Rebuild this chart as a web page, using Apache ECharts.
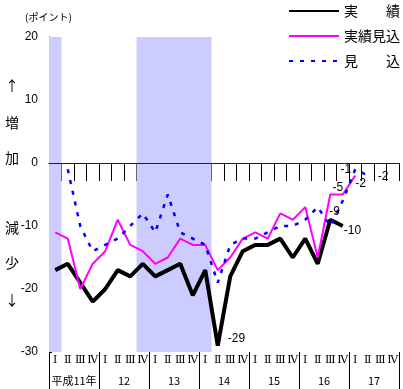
<!DOCTYPE html>
<html>
<head>
<meta charset="utf-8">
<script src="https://cdn.jsdelivr.net/npm/echarts@6/dist/echarts.min.js"></script>
<style>
html,body{margin:0;padding:0;background:#fff;}
#c{width:403px;height:389px;}
</style>
</head>
<body>
<div id="c"></div>
<script>
// ---- data ----
const years = ['平成11年', '12', '13', '14', '15', '16', '17'];
const quarterLabels = ['Ⅰ', 'Ⅱ', 'Ⅲ', 'Ⅳ'];
const yTicks = [-30, -20, -10, 0, 10, 20];
const seriesNames = ['実　　績', '実績見込', '見　　込'];
// 実績
const actual = [-17, -16, -19, -22, -20, -17, -18, -16, -18, -17, -16, -21, -17, -29, -18, -14, -13, -13, -12, -15, -12, -16, -9, -10];
// 実績見込
const estimate = [-11, -12, -20, -16, -14, -9, -13, -14, -16, -15, -12, -13, -13, -17, -15, -12, -11, -12, -8, -9, -7, -15, -5, -5, -2];
// 見込
const forecast = [null, -1, -10, -14, -13, -12, -10, -8, -11, -5, -11, -12, -13, -19, -13, -12, -12, -11, -10, -10, -9, -7, -10, -6, -1, -2];
// shaded periods (quarter index start, end exclusive)
const bands = [[0, 1], [7, 13]];
// labelled points: [index, label position, offset]
const actualLabels = [[13, 'right', [5, -7]], [22, 'right', [-6, -8]], [23, 'right', [-4, 5]]];
const estimateLabels = [[23, 'top', [-5, 4]], [24, 'right', [-5, 8]]];
const forecastLabels = [[24, 'left', [1, 0]], [25, 'right', [5, 1]]];

const categories = [];
years.forEach(y => quarterLabels.forEach(q => categories.push(y + '|' + q)));

const numFont = "'Liberation Sans', Arial, sans-serif";
const jp = "'Noto Sans CJK JP', sans-serif";
function marks(values, items) {
  return {
    symbol: 'circle', symbolSize: 0, silent: true, animation: false,
    label: { show: true, color: '#000', fontSize: 12, fontFamily: numFont, formatter: p => String(p.value) },
    data: items.map(([i, pos, off]) => ({ coord: [categories[i], values[i]], value: values[i], label: { position: pos, offset: off } }))
  };
}

const chart = echarts.init(document.getElementById('c'));
chart.setOption({
  animation: false,
  textStyle: { fontFamily: jp },
  grid: { left: 49, top: 37, width: 350, height: 315, containLabel: false },
  legend: {
    orient: 'vertical', left: 288, top: 4, padding: 0, itemWidth: 50, itemHeight: 14, itemGap: 11,
    data: seriesNames,
    itemStyle: { opacity: 0, color: 'rgba(0,0,0,0)', borderWidth: 0 },
    textStyle: { fontSize: 14, color: '#000', fontFamily: jp }
  },
  xAxis: [
    {
      type: 'category', data: categories, position: 'bottom', boundaryGap: true,
      axisLine: { show: true, lineStyle: { color: '#000', width: 1 } },
      axisTick: { show: true, interval: 0, length: 18, lineStyle: { color: '#000' } },
      axisLabel: { interval: 0, margin: 3, fontSize: 11, color: '#000', fontFamily: "'DejaVu Serif', 'Noto Sans CJK JP', serif", formatter: v => v.split('|')[1] }
    },
    {
      type: 'category', data: years, position: 'bottom', boundaryGap: true,
      axisLine: { show: false },
      axisTick: { show: true, interval: 0, length: 37, lineStyle: { color: '#000' } },
      axisLabel: { interval: 0, margin: 23, fontSize: 11, color: '#000', fontFamily: jp }
    },
    { type: 'value', min: 0, max: categories.length, show: false }
  ],
  yAxis: {
    type: 'value', min: yTicks[0], max: yTicks[yTicks.length - 1], interval: 10,
    axisLine: { show: true, lineStyle: { color: '#000', width: 1 } },
    axisTick: { show: true, inside: true, length: 3, lineStyle: { color: '#000' } },
    minorTick: { show: true, splitNumber: 10, length: 2, lineStyle: { color: '#000' } },
    splitLine: { show: false },
    axisLabel: { margin: 11, fontSize: 12, color: '#000', fontFamily: numFont }
  },
  graphic: [
    { type: 'text', left: 25, top: 12, style: { text: '(ポイント)', fontSize: 10, fill: '#000', fontFamily: jp } },
    { type: 'text', x: 12, y: 86, style: { text: '↑', fontSize: 14, fill: '#000', fontFamily: jp, align: 'center', verticalAlign: 'middle' } },
    { type: 'text', x: 12, y: 123, style: { text: '増', fontSize: 14, fill: '#000', fontFamily: jp, align: 'center', verticalAlign: 'middle' } },
    { type: 'text', x: 12, y: 158, style: { text: '加', fontSize: 14, fill: '#000', fontFamily: jp, align: 'center', verticalAlign: 'middle' } },
    { type: 'text', x: 12, y: 228, style: { text: '減', fontSize: 14, fill: '#000', fontFamily: jp, align: 'center', verticalAlign: 'middle' } },
    { type: 'text', x: 12, y: 263, style: { text: '少', fontSize: 14, fill: '#000', fontFamily: jp, align: 'center', verticalAlign: 'middle' } },
    { type: 'text', x: 12, y: 300, style: { text: '↓', fontSize: 14, fill: '#000', fontFamily: jp, align: 'center', verticalAlign: 'middle' } }
  ],
  series: [
    {
      type: 'line', xAxisIndex: 2, yAxisIndex: 0, data: [], silent: true,
      markArea: { silent: true, itemStyle: { color: '#CCCCFF' }, data: bands.map(b => [{ xAxis: b[0] }, { xAxis: b[1] }]) },
      markLine: { silent: true, symbol: ['none', 'none'], label: { show: false }, lineStyle: { color: '#222', type: 'solid', width: 1 }, data: [{ yAxis: 0 }] }
    },
    {
      name: seriesNames[0], type: 'line', xAxisIndex: 0, data: actual, symbol: 'none',
      lineStyle: { color: '#000', width: 4 }, itemStyle: { color: '#000' },
      markPoint: marks(actual, actualLabels)
    },
    {
      name: seriesNames[1], type: 'line', xAxisIndex: 0, data: estimate, symbol: 'none',
      lineStyle: { color: '#FF00FF', width: 2 }, itemStyle: { color: '#FF00FF' },
      markPoint: marks(estimate, estimateLabels)
    },
    {
      name: seriesNames[2], type: 'line', xAxisIndex: 0, data: forecast.map(v => v === null ? '-' : v), symbol: 'none',
      lineStyle: { color: '#0000FF', width: 2.5, type: [4, 7] }, itemStyle: { color: '#0000FF' },
      markPoint: marks(forecast, forecastLabels)
    }
  ]
});
</script>
</body>
</html>
